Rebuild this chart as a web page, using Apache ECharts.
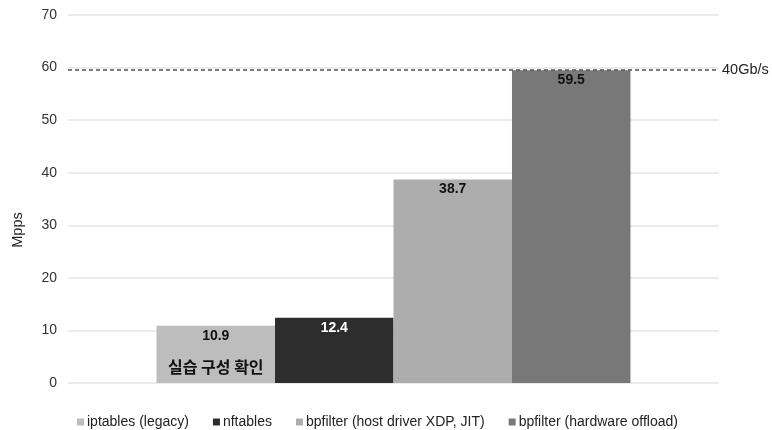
<!DOCTYPE html>
<html>
<head>
<meta charset="utf-8">
<script src="https://cdn.jsdelivr.net/npm/echarts@6/dist/echarts.min.js"></script>
<style>
  html, body { margin: 0; padding: 0; background: #fff; }
  #chart { width: 772px; height: 430px; }
</style>
</head>
<body>
<div id="chart"></div>
<script>
// Packet-filter throughput, in million packets per second
const seriesNames = [
  'iptables (legacy)',
  'nftables',
  'bpfilter (host driver XDP, JIT)',
  'bpfilter (hardware offload)'
];
const seriesValues = [10.9, 12.4, 38.7, 59.5];
const seriesColors = ['#bdbdbd', '#2d2d2d', '#adadad', '#787878'];
const labelColors = ['#111', '#fff', '#111', '#111'];
const yTicks = [0, 10, 20, 30, 40, 50, 60, 70];
const lineRateValue = 59.5;     // 40Gb/s line rate
const lineRateLabel = '40Gb/s';
const noteText = '실습 구성 확인';
const axisTitle = 'Mpps';

const FONT = '"Liberation Sans", Arial, Helvetica, sans-serif';
const KFONT = '"Noto Sans CJK KR", "Liberation Sans", sans-serif';

const chart = echarts.init(document.getElementById('chart'), null, { renderer: 'canvas' });

const series = seriesNames.map((name, i) => {
  const s = {
    name,
    type: 'bar',
    barGap: '0%',
    barCategoryGap: '27.2%',
    data: [seriesValues[i]],
    itemStyle: { color: seriesColors[i] },
    label: {
      show: true,
      position: 'insideTop',
      distance: 3,
      color: labelColors[i],
      fontFamily: FONT,
      fontWeight: 'bold',
      fontSize: 14,
      formatter: p => p.value.toFixed(1)
    }
  };
  if (i === 0) {
    // first bar also carries the note under its value
    s.label.formatter = p => '{v|' + p.value.toFixed(1) + '}\n{k|' + noteText + '}';
    s.label.rich = {
      v: { fontFamily: FONT, fontWeight: 'bold', fontSize: 14, lineHeight: 14, color: '#111' },
      k: { fontFamily: KFONT, fontWeight: 'bold', fontSize: 16, lineHeight: 48, color: '#111' }
    };
  }
  if (i === seriesNames.length - 1) {
    s.markLine = {
      silent: true,
      symbol: ['none', 'none'],
      data: [{ yAxis: lineRateValue }],
      lineStyle: { color: '#555', type: [4, 3], width: 1.5 },
      label: {
        show: true,
        position: 'end',
        distance: 3,
        formatter: lineRateLabel,
        color: '#222',
        fontFamily: FONT,
        fontSize: 14.5
      }
    };
  }
  return s;
});

chart.setOption({
  animation: false,
  backgroundColor: '#fff',
  textStyle: { fontFamily: FONT },
  grid: { left: 68, right: 53, top: 15, bottom: 47, containLabel: false },
  legend: {
    data: seriesNames,
    top: 410,
    left: 72,
    icon: 'rect',
    itemWidth: 7,
    itemHeight: 7,
    itemGap: 24,
    textStyle: { fontFamily: FONT, fontSize: 14, color: '#222', padding: [0, 0, 0, -2] }
  },
  xAxis: {
    type: 'category',
    data: [''],
    axisLine: { show: false },
    axisTick: { show: false },
    axisLabel: { show: false }
  },
  yAxis: {
    type: 'value',
    min: yTicks[0],
    max: yTicks[yTicks.length - 1],
    interval: 10,
    axisLine: { show: false },
    axisTick: { show: false },
    axisLabel: { color: '#333', fontFamily: FONT, fontSize: 14, margin: 11 },
    splitLine: { lineStyle: { color: '#e4e4e4', width: 1.5 } }
  },
  graphic: [{
    type: 'text',
    x: 18,
    y: 230,
    rotation: Math.PI / 2,
    style: {
      text: axisTitle,
      font: '14.5px ' + FONT,
      fill: '#222',
      align: 'center',
      verticalAlign: 'middle'
    }
  }],
  series
});
</script>
</body>
</html>
